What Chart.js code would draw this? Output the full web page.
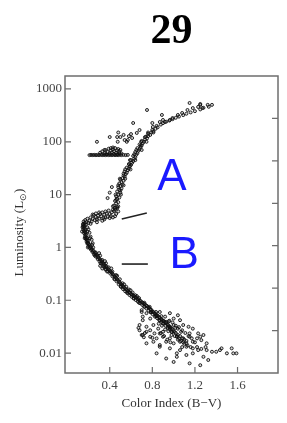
<!DOCTYPE html>
<html>
<head>
<meta charset="utf-8">
<script src="https://cdn.jsdelivr.net/npm/chart.js@4.4.1/dist/chart.umd.min.js"></script>
<style>
  html, body { margin: 0; padding: 0; background: #fff; }
  #wrap { position: relative; width: 287px; height: 423px; }
</style>
</head>
<body>
<div id="wrap"><canvas id="hr"></canvas></div>
<script>
// axis ticks
const colorTicks = [0.4, 0.8, 1.2, 1.6];
const lumTicks = [0.01, 0.1, 1, 10, 100, 1000];
const magTicks = [0, 1, 2, 3, 4, 5];

// stars, [B-V, L/Lsun]
const mainSequence = [
    [0.150,2.7],[0.158,2.5],[0.145,2.4],[0.162,2.3],[0.152,2.2],[0.170,2.15],[0.158,2.05],[0.166,1.95],[0.175,1.9],[0.160,1.85],
    [0.172,1.75],[0.182,1.7],[0.168,1.62],[0.178,1.55],[0.188,1.5],[0.175,1.45],[0.185,1.38],[0.195,1.33],[0.183,1.28],[0.198,1.22],
    [0.190,1.18],[0.205,1.15],[0.212,1.08],[0.200,1.05],[0.220,1.02],[0.215,0.97],[0.230,0.95],[0.225,0.90],[0.240,0.88],[0.250,0.85],
    [0.238,0.82],[0.258,0.80],[0.265,0.76],[0.252,0.74],[0.275,0.72],[0.285,0.70],[0.270,0.67],[0.292,0.66],[0.300,0.62],[0.288,0.60],
    [0.310,0.59],[0.320,0.56],[0.305,0.54],[0.330,0.53],[0.340,0.50],[0.325,0.49],[0.350,0.47],[0.360,0.45],[0.345,0.44],[0.370,0.43],
    [0.380,0.40],[0.365,0.39],[0.390,0.38],[0.400,0.36],[0.385,0.35],[0.410,0.345],[0.420,0.33],[0.405,0.32],[0.430,0.31],[0.440,0.295],
    [0.425,0.285],[0.450,0.28],[0.460,0.265],[0.445,0.255],[0.470,0.25],[0.480,0.235],[0.465,0.228],[0.490,0.222],[0.500,0.21],[0.485,0.20],
    [0.510,0.198],[0.520,0.19],[0.505,0.182],[0.530,0.178],[0.540,0.17],[0.525,0.163],[0.550,0.162],[0.560,0.155],[0.545,0.148],[0.570,0.15],
    [0.580,0.142],[0.565,0.137],[0.590,0.138],[0.600,0.132],[0.585,0.126],[0.610,0.128],[0.620,0.122],[0.605,0.117],[0.630,0.12],[0.640,0.114],
    [0.625,0.108],[0.650,0.112],[0.660,0.106],[0.645,0.101],[0.670,0.104],[0.680,0.098],[0.665,0.094],[0.690,0.097],[0.700,0.092],[0.685,0.088],
    [0.710,0.090],[0.720,0.086],[0.705,0.082],[0.730,0.084],[0.740,0.080],[0.725,0.076],[0.750,0.078],[0.760,0.074],[0.745,0.070],[0.770,0.072],
    [0.780,0.068],[0.765,0.064],[0.790,0.066],[0.800,0.062],[0.785,0.059],[0.810,0.060],[0.820,0.057],[0.805,0.054],[0.830,0.055],[0.840,0.052],
    [0.825,0.049],[0.850,0.051],[0.860,0.048],[0.845,0.046],[0.870,0.047],[0.880,0.044],[0.865,0.042],[0.890,0.043],[0.900,0.041],[0.885,0.039],
    [0.910,0.040],[0.920,0.038],[0.905,0.036],[0.930,0.037],[0.940,0.035],[0.925,0.033],[0.950,0.034],[0.960,0.032],[0.945,0.030],[0.970,0.031],
    [0.980,0.029],[0.965,0.028],[0.990,0.028],[1.000,0.026],[0.985,0.025],[1.010,0.025],[1.020,0.024],[1.040,0.022],[1.030,0.021],[1.060,0.021],
    [1.080,0.019],[1.050,0.019],[1.100,0.018],[1.120,0.017],[1.090,0.016],
    [0.19,2.4],[0.20,2.2],[0.21,1.9],[0.22,1.6],[0.23,1.4],[0.24,1.2],[0.31,0.45],[0.35,0.42],[0.33,0.40],[0.36,0.38]
];

// stars along both edges of the main sequence band
const mainSequenceEdge = [
    [0.14,2.0],[0.19,2.0],[0.165,1.5],[0.215,1.5],[0.195,1.0],[0.245,1.0],[0.195,1.2],[0.235,1.12],[0.26,0.7],[0.31,0.7],
    [0.27,0.8],[0.30,0.78],[0.315,0.5],[0.365,0.5],[0.33,0.58],[0.355,0.55],[0.375,0.35],[0.425,0.35],[0.39,0.42],[0.415,0.40],
    [0.445,0.25],[0.495,0.25],[0.46,0.3],[0.47,0.29],[0.505,0.18],[0.555,0.18],[0.52,0.21],[0.535,0.2],[0.565,0.14],[0.615,0.14],
    [0.58,0.16],[0.595,0.155],[0.625,0.11],[0.675,0.11],[0.64,0.125],[0.655,0.12],[0.675,0.09],[0.725,0.09],[0.725,0.075],[0.775,0.075],
    [0.785,0.06],[0.835,0.06],[0.835,0.05],[0.885,0.05],[0.905,0.04],[0.955,0.04],[0.965,0.03],[1.015,0.03]
];

const faintStars = [
    [0.70,0.060],[0.745,0.057],[0.79,0.060],[0.84,0.052],[0.87,0.060],[0.92,0.049],[0.965,0.057],[1.00,0.045],[1.04,0.052],[0.87,0.042],
    [0.78,0.045],[0.71,0.042],[0.93,0.039],[1.06,0.042],[0.68,0.034],[0.745,0.0315],[0.81,0.034],[0.855,0.029],[0.90,0.0365],[0.95,0.0315],
    [1.00,0.034],[1.04,0.029],[1.09,0.034],[1.14,0.0315],[1.18,0.029],[1.15,0.0236],[1.07,0.0253],[0.98,0.0253],[0.90,0.0253],[0.82,0.0236],
    [0.745,0.0253],[0.71,0.022],[0.78,0.0204],[0.84,0.019],[0.90,0.0204],[0.965,0.019],[1.03,0.0204],[1.09,0.019],[1.15,0.0204],[1.22,0.019],
    [1.25,0.0204],[1.26,0.0176],[1.31,0.0153],[1.18,0.0164],[1.12,0.0153],[1.06,0.0164],[1.00,0.0153],[0.93,0.0164],[0.87,0.0142],[0.81,0.0164],
    [1.23,0.0236],[1.28,0.022],[0.745,0.0153],[0.87,0.0132],[0.965,0.0123],[1.06,0.0114],[1.12,0.0132],[1.18,0.0123],[1.23,0.0114],[1.31,0.0114],
    [1.36,0.0106],[1.40,0.0106],[1.435,0.0114],[1.45,0.0123],[1.545,0.0123],[1.03,0.0099],[1.12,0.0092],[1.18,0.0099],[0.84,0.0099],[0.93,0.0079],
    [1.03,0.0085],[1.28,0.0085],[1.50,0.0099],[1.00,0.0068],[1.15,0.0064],[1.25,0.0059],[1.325,0.0074],[1.56,0.0099],[1.59,0.0099],
    [0.70,0.065],[0.71,0.049],[0.68,0.027],[0.73,0.024],[0.78,0.027],[0.80,0.0195],[0.87,0.0235],[0.67,0.030],[0.70,0.022],[0.72,0.020],
    [0.86,0.036],[0.89,0.033],[0.92,0.028],[0.95,0.026],[0.98,0.022],[1.01,0.021],[1.04,0.018],[1.07,0.017],[1.10,0.015],[1.13,0.014],
    [1.16,0.013],[0.96,0.041],[0.99,0.038],[1.02,0.033],[1.05,0.031],[1.08,0.027],[1.11,0.024],[1.14,0.021],[1.17,0.019],[1.20,0.016],
    [0.88,0.024],[0.91,0.021],[0.94,0.018],[0.97,0.016],[1.08,0.013],[1.22,0.013],[1.26,0.012],[1.30,0.013]
];

const subgiants = [
    [0.45,5.6],[0.44,4.9],[0.46,4.3],[0.43,5.2],[0.45,3.9],[0.42,4.6],[0.41,3.9],[0.40,4.3],[0.39,5.0],[0.38,3.8],
    [0.37,4.4],[0.36,3.7],[0.35,4.2],[0.34,3.6],[0.33,4.6],[0.32,3.9],[0.31,4.3],[0.30,3.5],[0.29,4.0],[0.28,3.4],
    [0.27,3.8],[0.26,3.3],[0.25,4.1],[0.24,3.5],[0.23,3.1],[0.22,3.7],[0.21,3.2],[0.20,2.9],[0.19,3.5],[0.18,3.0],
    [0.175,2.7],[0.17,3.3],[0.165,2.9],[0.16,2.6],[0.155,3.1],[0.15,2.8],[0.148,2.5],[0.40,3.6],[0.36,4.8],[0.30,4.6],
    [0.27,4.4],[0.24,4.2],[0.48,4.8],[0.47,5.5],[0.43,3.7],[0.35,3.4],[0.28,3.0],[0.22,2.8],[0.33,3.2]
];

const giants = [
    [0.45,5.2],[0.47,5.8],[0.44,6.2],[0.46,6.8],[0.48,7.2],[0.45,7.6],[0.47,8.3],[0.49,8.8],[0.46,9.3],[0.48,10],
    [0.50,10.8],[0.47,11.5],[0.49,12.3],[0.51,13],[0.48,13.8],[0.50,14.6],[0.52,15.5],[0.49,16.3],[0.51,17.2],[0.53,18.3],
    [0.50,19.2],[0.52,20.5],[0.54,21.8],[0.53,23],[0.55,24.5],[0.56,26],[0.54,27.5],[0.57,29],[0.58,31],[0.56,32.5],
    [0.59,34.5],[0.60,36.5],[0.58,38],[0.61,40],[0.62,43],[0.60,45],[0.63,48],[0.64,51],[0.62,54],[0.65,57],
    [0.66,61],[0.64,64],[0.67,68],[0.68,72],[0.66,76],[0.69,80],[0.70,85],[0.68,89],[0.71,94],[0.72,100],
    [0.70,104],[0.73,110],[0.75,116],[0.73,122],[0.76,128],[0.78,135],[0.76,142],[0.79,150],[0.81,158],[0.80,168],
    [0.83,176],[0.85,188],[0.84,200],[0.88,212],[0.90,225],[0.93,240],[0.96,252],[0.99,268],[1.02,285],[1.05,300],
    [1.09,320],[1.12,340],[1.16,360],[1.20,380],[1.25,410],[1.28,440],[1.33,460],
    [0.40,10.9],[0.38,8.6],[0.42,13.9],
    [0.43,6],[0.48,6],[0.455,10],[0.505,10],[0.48,15],[0.53,15],[0.495,20],[0.545,20],[0.545,30],[0.595,30],
    [0.59,45],[0.64,45],[0.65,70],[0.70,70],[0.695,100],[0.745,100],[0.76,150],[0.81,150],[0.46,8],[0.50,12],
    [0.53,25],[0.585,37],[0.63,58],[0.69,85],[0.74,125]
];

const brightScatter = [
    [1.15,543],[1.32,500],[1.25,500],[1.23,457],[1.18,435],[1.27,435],[1.13,400],[1.08,351],[1.04,322],[0.99,282],
    [0.965,259],[0.87,237],[0.75,400],[0.89,322],[0.90,259],[0.80,227],[0.805,191],[0.918,237],[1.36,500],[1.25,520],
    [0.62,227],[0.654,147],[0.68,167]
];

const horizontalBranch = [
    [0.21,56],[0.225,56.5],[0.24,56],[0.255,56.5],[0.27,56],[0.285,56.5],[0.30,56],[0.315,57],[0.33,56],[0.345,56.5],
    [0.36,56],[0.375,57],[0.39,56],[0.405,56.5],[0.42,56],[0.435,57],[0.45,56],[0.465,56.5],[0.48,56],[0.495,57],
    [0.51,56],[0.53,56.5],[0.55,56],[0.57,56.5],
    [0.31,62],[0.33,66],[0.35,60],[0.36,70],[0.38,64],[0.39,74],[0.40,60],[0.41,68],[0.42,63],[0.43,72],
    [0.44,59],[0.44,66],[0.45,76],[0.46,62],[0.47,69],[0.47,58],[0.48,73],[0.49,61],[0.49,66],[0.50,70],
    [0.51,60],[0.43,78],[0.37,58],[0.41,76],
    [0.28,100],[0.40,123],[0.47,123],[0.475,100],[0.50,123],[0.54,108],[0.57,108],[0.56,100],[0.61,118],[0.48,150],
    [0.53,135],[0.58,128],[0.60,140],[0.35,70]
];

// pointer strokes next to the letters
const markerA = [[0.513,3.45],[0.748,4.49]];
const markerB = [[0.513,0.485],[0.758,0.485]];
const letters = [
    { text: 'A', bv: 0.984, lum: 12.2 },
    { text: 'B', bv: 1.10, lum: 0.41 },
];

const serif = "'Liberation Serif', 'Times New Roman', serif";

function toPoints(rows) {
    return rows.map(([bv, lum]) => ({ x: bv, y: lum }));
}

function starSet(rows) {
    return {
        data: toPoints(rows),
        pointRadius: 1.5,
        pointBorderWidth: 0.9,
        pointBorderColor: '#111',
        pointBackgroundColor: 'rgba(0,0,0,0.15)',
        showLine: false,
    };
}

function strokeSet(rows) {
    return {
        data: toPoints(rows),
        showLine: true,
        borderColor: '#222',
        borderWidth: 1.6,
        pointRadius: 0,
    };
}

const framePlugin = {
    id: 'frame',
    afterDraw(chart) {
        const { ctx, chartArea: a, scales } = chart;
        ctx.save();

        ctx.strokeStyle = '#6e6e6e';
        ctx.lineWidth = 1.5;
        ctx.strokeRect(a.left, a.top, a.right - a.left, a.bottom - a.top);

        // inward tick marks
        ctx.lineWidth = 1.2;
        ctx.beginPath();
        scales.x.ticks.forEach((t) => {
            const px = scales.x.getPixelForValue(t.value);
            ctx.moveTo(px, a.bottom);
            ctx.lineTo(px, a.bottom - 6);
        });
        scales.y.ticks.forEach((t) => {
            const py = scales.y.getPixelForValue(t.value);
            ctx.moveTo(a.left, py);
            ctx.lineTo(a.left + 6, py);
        });
        scales.mag.ticks.forEach((t) => {
            const py = scales.mag.getPixelForValue(t.value);
            ctx.moveTo(a.right, py);
            ctx.lineTo(a.right - 6, py);
        });
        ctx.stroke();

        // big blue letters
        ctx.fillStyle = '#1a1aff';
        ctx.font = "44px 'Liberation Sans', Arial, sans-serif";
        ctx.textAlign = 'center';
        ctx.textBaseline = 'alphabetic';
        letters.forEach((l) => {
            ctx.fillText(l.text, scales.x.getPixelForValue(l.bv), scales.y.getPixelForValue(l.lum));
        });

        // page number
        ctx.fillStyle = '#000';
        ctx.font = 'bold 42px ' + serif;
        ctx.fillText('29', (a.left + a.right) / 2, 43);

        // y title with subscript sun
        ctx.fillStyle = '#333';
        ctx.translate(20, (a.top + a.bottom) / 2 + 8);
        ctx.rotate(-Math.PI / 2);
        const big = '13px ' + serif;
        const small = '9px ' + serif;
        ctx.font = big;
        const w1 = ctx.measureText('Luminosity (L').width;
        const w3 = ctx.measureText(')').width;
        ctx.font = small;
        const w2 = ctx.measureText('\u2299').width;
        let x0 = -(w1 + w2 + w3) / 2;
        ctx.textAlign = 'left';
        ctx.textBaseline = 'middle';
        ctx.font = big;
        ctx.fillText('Luminosity (L', x0, 0);
        ctx.font = small;
        ctx.fillText('\u2299', x0 + w1, 4);
        ctx.font = big;
        ctx.fillText(')', x0 + w1 + w2, 0);

        ctx.restore();
    },
};

new Chart(document.getElementById('hr'), {
    type: 'scatter',
    data: {
        datasets: [
            starSet(mainSequence),
            starSet(mainSequenceEdge),
            starSet(faintStars),
            starSet(subgiants),
            starSet(giants),
            starSet(brightScatter),
            starSet(horizontalBranch),
            strokeSet(markerA),
            strokeSet(markerB),
        ],
    },
    options: {
        responsive: true,
        maintainAspectRatio: false,
        animation: false,
        devicePixelRatio: 1,
        layout: { padding: { top: 76, left: 0, right: 0, bottom: 0 } },
        plugins: {
            legend: { display: false },
            tooltip: { enabled: false },
        },
        scales: {
            x: {
                type: 'linear',
                min: -0.02,
                max: 1.98,
                grid: { display: false, drawTicks: false },
                border: { display: false },
                afterBuildTicks: (scale) => { scale.ticks = colorTicks.map((v) => ({ value: v })); },
                afterFit: (scale) => { scale.height = 50; },
                ticks: {
                    padding: 5,
                    color: '#444',
                    font: { family: serif, size: 13 },
                    callback: (v) => String(v),
                },
                title: {
                    display: true,
                    text: 'Color Index (B\u2212V)',
                    color: '#333',
                    font: { family: serif, size: 13 },
                    padding: { top: 0, bottom: 12 },
                },
            },
            y: {
                type: 'logarithmic',
                min: 0.0042,
                max: 1760,
                grid: { display: false, drawTicks: false },
                border: { display: false },
                afterBuildTicks: (scale) => { scale.ticks = lumTicks.map((v) => ({ value: v })); },
                afterFit: (scale) => { scale.width = 65; },
                ticks: {
                    padding: 3,
                    color: '#444',
                    font: { family: serif, size: 13 },
                    callback: (v) => String(v),
                },
            },
            mag: {
                type: 'linear',
                position: 'right',
                reverse: true,
                min: -1,
                max: 6,
                grid: { display: false, drawTicks: false },
                border: { display: false },
                afterBuildTicks: (scale) => { scale.ticks = magTicks.map((v) => ({ value: v })); },
                afterFit: (scale) => { scale.width = 9; },
                ticks: { display: false },
            },
        },
    },
    plugins: [framePlugin],
});
</script>
</body>
</html>
